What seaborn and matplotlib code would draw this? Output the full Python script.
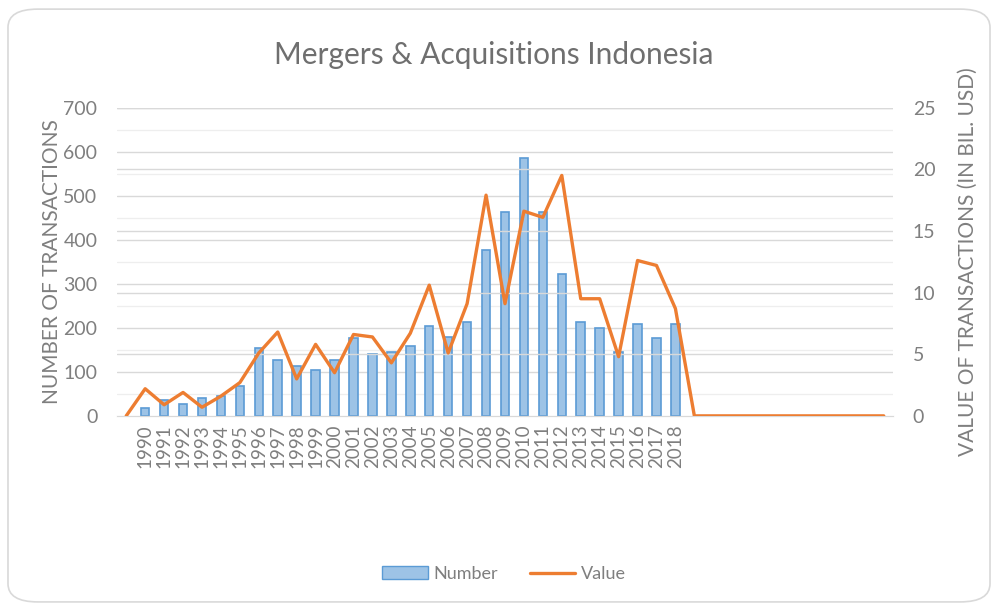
import numpy as np
import pandas as pd
import matplotlib
matplotlib.use("Agg")
import matplotlib.pyplot as plt
from matplotlib.patches import FancyBboxPatch, Patch
from matplotlib.lines import Line2D
import seaborn as sns

#####----- DATA
years = [1990, 1991, 1992, 1993, 1994, 1995, 1996, 1997, 1998, 1999,
         2000, 2001, 2002, 2003, 2004, 2005, 2006, 2007, 2008, 2009,
         2010, 2011, 2012, 2013, 2014, 2015, 2016, 2017, 2018]
number = [17, 36, 27, 41, 46, 68, 155, 127, 114, 105,
          127, 176, 141, 145, 159, 205, 180, 214, 377, 463,
          586, 463, 323, 214, 200, 145, 208, 176, 209]
value = [2.2, 0.9, 1.9, 0.7, 1.6, 2.7, 5.1, 6.8, 3.0, 5.8,
         3.5, 6.6, 6.4, 4.3, 6.7, 10.6, 5.1, 9.1, 17.9, 9.1,
         16.6, 16.1, 19.5, 9.5, 9.5, 4.8, 12.6, 12.2, 8.7]
# empty category before 1990 and empty categories after 2018 (value 0)
lead_cats = ["_start"]
tail_cats = [str(y) for y in range(2019, 2030)]

title = "Mergers & Acquisitions Indonesia"
left_label = "NUMBER OF TRANSACTIONS"
right_label = "VALUE OF TRANSACTIONS (IN BIL. USD)"

#####----- FRAMES
order = lead_cats + [str(y) for y in years] + tail_cats
bar_df = pd.DataFrame({"cat": [str(y) for y in years], "Number": number})
line_df = pd.DataFrame({
    "pos": np.arange(len(order)),
    "Value": [0.0] * len(lead_cats) + value + [0.0] * len(tail_cats),
})

#####----- PLOT
sns.set_style("white")
plt.rcParams["font.family"] = ["Lato", "DejaVu Sans"]
grey = "#7F7F7F"
bar_face = "#9DC3E6"
bar_edge = "#5B9BD5"
orange = "#ED7D31"

fig = plt.figure(figsize=(9.98, 6.08), dpi=100)
ax = fig.add_axes([0.117, 0.316, 0.778, 0.507])

ax.set_ylim(0, 700)
ax.set_yticks(range(0, 701, 100))
for v in range(50, 700, 100):
    ax.axhline(v, color="#EEEEEE", lw=0.9, zorder=0)
for v in range(100, 701, 100):
    ax.axhline(v, color="#D9D9D9", lw=1.0, zorder=0)

sns.barplot(data=bar_df, x="cat", y="Number", order=order, color=bar_face,
            width=0.45, edgecolor=bar_edge, linewidth=1.2, saturation=1,
            ax=ax, zorder=2)

ax2 = ax.twinx()
ax2.set_ylim(0, 25)
ax2.set_yticks(range(0, 26, 5))
for v in range(5, 26, 5):
    ax2.axhline(v, color="#D9D9D9", lw=1.0, zorder=0)
sns.lineplot(data=line_df, x="pos", y="Value", color=orange, lw=2.4, ax=ax2, zorder=3)

ax.set_xlim(-0.5, len(order) - 0.5)
ax2.set_xlim(-0.5, len(order) - 0.5)
ax.set_xticks(range(len(order)))
ax.set_xticklabels([c if c in bar_df["cat"].values else "" for c in order],
                   rotation=90, fontsize=13.5, color=grey)
ax.tick_params(axis="x", length=0, pad=6)
ax.tick_params(axis="y", length=0, labelsize=14, labelcolor=grey, pad=14)
ax2.tick_params(axis="y", length=0, labelsize=14, labelcolor=grey, pad=14)

ax.set_xlabel("")
ax.set_ylabel(left_label, fontsize=15, color=grey, labelpad=1)
ax2.set_xlabel("")
ax2.set_ylabel(right_label, fontsize=15, color=grey, labelpad=16)

for a in (ax, ax2):
    for s in ("top", "left", "right"):
        a.spines[s].set_visible(False)
    a.spines["bottom"].set_color("#D9D9D9")

fig.text(0.495, 0.91, title, ha="center", va="center", fontsize=21.5, color="#6F6F6F")

handles = [Patch(facecolor=bar_face, edgecolor=bar_edge, label="Number"),
           Line2D([0], [0], color=orange, lw=2.4, label="Value")]
fig.legend(handles=handles, loc="center", bbox_to_anchor=(0.505, 0.056), ncol=2,
           frameon=False, fontsize=13, labelcolor=grey, handlelength=2.5,
           columnspacing=1.8, handletextpad=0.3)

border = FancyBboxPatch((0.008, 0.01), 0.984, 0.975, boxstyle="round,pad=0,rounding_size=0.03",
                        transform=fig.transFigure, facecolor="none", edgecolor="#D9D9D9",
                        lw=1.2, zorder=-1)
fig.patches.append(border)

fig.savefig("out.png", dpi=100)
